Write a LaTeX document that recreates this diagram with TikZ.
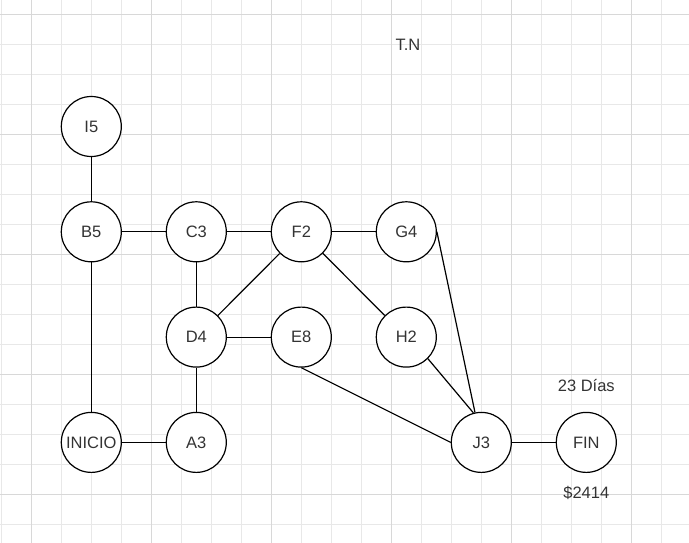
\documentclass[tikz,border=0pt]{standalone}
\usepackage{fontspec}
\setmainfont{Liberation Sans}
\usetikzlibrary{positioning}

\definecolor{inktext}{HTML}{333333}
\definecolor{gridminor}{HTML}{E8E8E8}
\definecolor{gridmajor}{HTML}{D8D8D8}

\begin{document}
\begin{tikzpicture}[
    x=1pt, y=-1pt,
    on grid,
    node distance=105.3pt and 105pt,
    activity/.style={circle, draw=black, line width=1.2pt, fill=white, minimum size=60pt, inner sep=0pt, text=inktext, font=\fontsize{16.5}{19}\selectfont},
    note/.style={text=inktext, font=\fontsize{16.5}{19}\selectfont},
    link/.style={line width=1.2pt, black}
]

\useasboundingbox (0,0) rectangle (689,543);

% Background grid
\draw[gridminor, line width=0.8pt, step=30pt, shift={(1.7,14)}] (-1.7,-14) grid (687.3,529);
\draw[gridmajor, line width=0.8pt, step=120pt, shift={(31.7,14)}] (-31.7,-14) grid (657.3,529);

% Top row
\node[activity] (I5) at (91.3,126.5) {I5};
\node[activity, below=of I5] (B5) {B5};
\node[activity, right=of B5] (C3) {C3};
\node[activity, right=of C3] (F2) {F2};
\node[activity, right=of F2] (G4) {G4};

% Middle row
\node[activity, below=of C3] (D4) {D4};
\node[activity, right=of D4] (E8) {E8};
\node[activity, right=of E8] (H2) {H2};

% Bottom row
\node[activity, below=of D4] (A3) {A3};
\node[activity, left=of A3] (INICIO) {INICIO};
\node[activity, below right=105.3pt and 75pt of H2] (J3) {J3};
\node[activity, right=of J3] (FIN) {FIN};

% Notes
\node[note] (tn) at (408,45) {T.N};
\node[note, above=57pt of FIN] (dias) {23 Días};
\node[note, below=51pt of FIN] (costo) {\$2414};

% Links
\draw[link] (I5) -- (B5);
\draw[link] (B5) -- (C3);
\draw[link] (C3) -- (F2);
\draw[link] (F2) -- (G4);
\draw[link] (B5) -- (INICIO);
\draw[link] (INICIO) -- (A3);
\draw[link] (C3) -- (D4);
\draw[link] (D4) -- (A3);
\draw[link] (D4) -- (E8);
\draw[link] (F2.south west) -- (D4.north east);
\draw[link] (F2.south east) -- (H2.north west);
\draw[link] (E8.south) -- (J3.west);
\draw[link] (G4.east) -- (J3);
\draw[link] (H2.south east) -- (J3.105);
\draw[link] (J3) -- (FIN);

\end{tikzpicture}
\end{document}
